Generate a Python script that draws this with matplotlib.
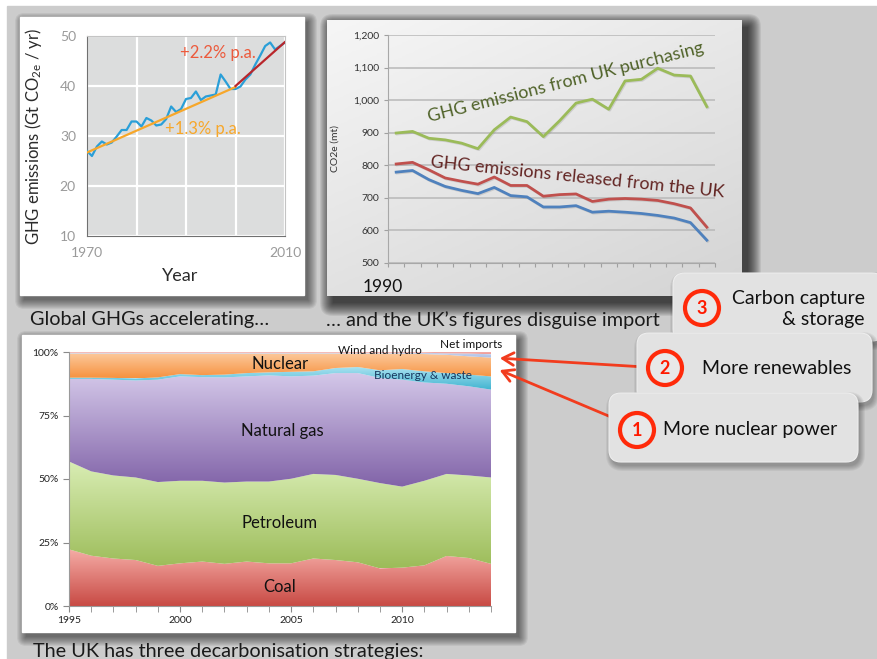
import matplotlib
matplotlib.use("Agg")
import matplotlib.pyplot as plt
import matplotlib.patheffects as pe
import numpy as np
from matplotlib.patches import Rectangle, FancyBboxPatch, Circle
from matplotlib.colors import LinearSegmentedColormap

plt.rcParams["font.family"] = ["Lato", "DejaVu Sans"]
plt.rcParams["mathtext.default"] = "regular"

W, H = 877, 659

# --- panel 1: global GHG emissions (Gt CO2e / yr)
ghg_years = list(range(1970, 2011))
ghg_values = [27.0, 26.0, 27.9, 28.9, 28.3, 28.7, 29.9, 31.2, 31.2, 32.9,
              32.9, 31.9, 33.6, 33.1, 32.1, 32.3, 33.4, 35.9, 34.8, 35.4,
              37.4, 37.6, 38.9, 37.2, 37.9, 38.1, 38.3, 42.3, 40.9, 39.4,
              39.4, 39.9, 41.3, 42.3, 44.3, 46.1, 48.0, 48.7, 47.3, 48.0, 48.7]
trend_early_years = [1970, 2000]
trend_early = [26.7, 39.8]
trend_late_years = [2000, 2010]
trend_late = [40.0, 48.8]

# --- panel 2: UK emissions (CO2e mt), 1990-2009
uk_years = list(range(1990, 2010))
uk_purchasing = [899, 904, 883, 878, 868, 851, 909, 948, 934, 888,
                 937, 991, 1003, 972, 1059, 1064, 1098, 1077, 1074, 980]
uk_released = [804, 809, 786, 761, 751, 742, 764, 738, 738, 705,
               710, 712, 689, 696, 698, 696, 692, 682, 669, 610]
uk_territorial = [779, 784, 756, 735, 723, 713, 732, 707, 703, 672,
                  672, 676, 656, 659, 656, 652, 646, 638, 624, 570]

# --- panel 3: UK primary energy mix (%), 1995-2014
mix_years = list(range(1995, 2015))
coal = [22.3, 19.8, 18.7, 18.1, 15.8, 16.8, 17.5, 16.6, 17.5, 16.8,
        16.8, 18.7, 18.1, 17.2, 14.8, 15.1, 16.0, 19.7, 18.9, 16.6]
petroleum = [34.6, 33.2, 32.7, 32.5, 33.0, 32.5, 31.8, 32.0, 31.5, 32.2,
             33.3, 33.3, 33.5, 32.9, 33.6, 31.9, 33.3, 32.3, 32.5, 34.0]
natural_gas = [32.5, 36.4, 37.7, 38.2, 40.3, 41.1, 40.8, 41.4, 41.4, 41.8,
               40.3, 38.7, 40.1, 41.6, 41.4, 42.1, 38.7, 35.5, 35.1, 34.6]
bioenergy = [0.5, 0.5, 0.7, 0.8, 0.9, 0.9, 0.8, 1.1, 1.3, 1.2,
             1.8, 1.7, 2.0, 2.4, 3.0, 4.2, 4.4, 4.2, 4.6, 5.2]
nuclear = [9.5, 9.5, 9.6, 9.8, 9.4, 8.1, 8.5, 8.3, 7.7, 7.4,
           7.2, 7.0, 5.7, 5.3, 6.6, 6.0, 6.8, 7.2, 7.2, 7.4]
wind_hydro = [0.3, 0.3, 0.3, 0.3, 0.3, 0.3, 0.3, 0.3, 0.3, 0.3,
              0.3, 0.3, 0.3, 0.3, 0.3, 0.4, 0.5, 0.6, 1.1, 1.3]
net_imports = [0.3, 0.3, 0.3, 0.3, 0.3, 0.3, 0.3, 0.3, 0.3, 0.3,
               0.3, 0.3, 0.3, 0.3, 0.3, 0.3, 0.3, 0.5, 0.6, 0.9]

fig = plt.figure(figsize=(W / 100, H / 100), dpi=100)
bg = fig.add_axes([0, 0, 1, 1])
bg.axis("off")
bg.add_patch(Rectangle((0, 0), W, H, color="white", zorder=0))
bg.add_patch(Rectangle((7, 6), W, H, color="#cccccc", zorder=0))


def px_axes(x0, y0, x1, y1):
    return fig.add_axes([x0 / W, 1 - y1 / H, (x1 - x0) / W, (y1 - y0) / H])


def shadow(x0, y0, x1, y1, dx=4, dy=5, n=10, alpha=0.06, r=0):
    for k in range(n):
        bg.add_patch(FancyBboxPatch((x0 + dx - k, y0 + dy - k), x1 - x0 + 2 * k, y1 - y0 + 2 * k,
                                    boxstyle=f"round,pad=0,rounding_size={r + k}",
                                    fc="black", ec="none", alpha=alpha, zorder=1))


# cards
shadow(20, 17, 304, 295, dx=4, dy=5, n=10, alpha=0.06)
bg.add_patch(Rectangle((20, 17), 284, 278, color="white", zorder=2))
shadow(327, 20, 742, 296, dx=6, dy=7, n=14, alpha=0.07)
yy, xx = np.mgrid[0:1:100j, 0:1:100j]
card = 0.6 * yy + 0.4 * xx
card_cmap = LinearSegmentedColormap.from_list("card", ["#f6f6f6", "#d4d4d4"])
bg.imshow(card, cmap=card_cmap, extent=(327, 742, 296, 20), aspect="auto", zorder=2)
shadow(22, 335, 515, 632, dx=4, dy=5, n=10, alpha=0.06)
bg.add_patch(Rectangle((22, 335), 493, 297, color="white", zorder=2))

# ---------------- panel 1
ax1 = px_axes(87, 36, 285, 236)
ax1.set_facecolor("#dcdddd")
ax1.plot(ghg_years, ghg_values, color="#2a9fd8", lw=1.6, zorder=3)
ax1.plot(trend_early_years, trend_early, color="#f7a72a", lw=1.6, zorder=4)
ax1.plot(trend_late_years, trend_late, color="#b9262b", lw=1.6, zorder=4)
ax1.set_xlim(1970, 2010)
ax1.set_ylim(10, 50)
ax1.set_xticks([1970, 1980, 1990, 2000, 2010])
ax1.set_xticklabels(["1970", "", "", "", "2010"])
ax1.set_yticks([10, 20, 30, 40, 50])
ax1.grid(color="white", lw=1.6)
ax1.set_axisbelow(True)
ax1.tick_params(length=0, colors="#9a9a9a", labelsize=10, pad=8)
for s in ["left", "bottom"]:
    ax1.spines[s].set_color("#707070")
for s in ["top", "right"]:
    ax1.spines[s].set_color("#c4c4c4")
ax1.set_ylabel("GHG emissions (Gt CO$_{2e}$ / yr)", fontsize=12, color="#2b2b2b")
ax1.yaxis.set_label_coords(-0.215, 0.5)
ax1.text(1996.4, 46.6, "+2.2% p.a.", color="#ec5a3c", fontsize=12, ha="center", va="center")
ax1.text(1993.4, 31.4, "+1.3% p.a.", color="#f7a72a", fontsize=12, ha="center", va="center")
bg.text(180, 276, "Year", fontsize=13, color="#2b2b2b", ha="center", va="center", zorder=3)

# ---------------- panel 2
ax2 = px_axes(388, 35, 715, 263)
ax2.set_facecolor("none")
xs = np.arange(len(uk_years)) + 0.5
shade = [pe.SimpleLineShadow(offset=(0.7, -0.7), shadow_color="#808080", alpha=0.25), pe.Normal()]
ax2.plot(xs, uk_purchasing, color="#9bbb59", lw=2.0, path_effects=shade)
ax2.plot(xs, uk_released, color="#c0504d", lw=2.0, path_effects=shade)
ax2.plot(xs, uk_territorial, color="#4f81bd", lw=2.0, path_effects=shade)
ax2.set_xlim(0, len(uk_years))
ax2.set_ylim(500, 1200)
ax2.set_yticks(range(500, 1201, 100))
ax2.set_yticklabels([f"{v:,}" for v in range(500, 1201, 100)])
ax2.set_xticks(range(0, len(uk_years) + 1))
ax2.set_xticklabels([])
ax2.yaxis.grid(True, color="#b8b8b8", lw=1.1)
ax2.set_axisbelow(True)
ax2.tick_params(axis="y", length=3, colors="#a0a0a0", labelcolor="#333333", labelsize=7.5, pad=3)
ax2.tick_params(axis="x", length=3, colors="#a0a0a0")
for s in ["top", "right"]:
    ax2.spines[s].set_visible(False)
for s in ["left", "bottom"]:
    ax2.spines[s].set_color("#a8a8a8")
ax2.set_ylabel("CO2e (mt)", fontsize=7.5, color="#333333")
ax2.yaxis.set_label_coords(-0.147, 0.5)
ax2.text(2.55, 933, "GHG emissions from UK purchasing", color="#4f6228", fontsize=13,
         rotation=14.2, rotation_mode="anchor", ha="left", va="baseline")
ax2.text(2.55, 795, "GHG emissions released from the UK", color="#632523", fontsize=13,
         rotation=-5.9, rotation_mode="anchor", ha="left", va="baseline")
bg.text(363, 287, "1990", fontsize=12.5, color="#111111", ha="left", va="center", zorder=3)

# ---------------- panel 3
ax3 = px_axes(69, 352, 491, 606)
layers = [coal, petroleum, natural_gas, bioenergy, nuclear, wind_hydro, net_imports]
grads = [("#f5aca6", "#c84a44"), ("#d9edb4", "#9cbc59"), ("#d4c8e9", "#8163a8"),
         ("#a8e2f0", "#40b3d0"), ("#fcc99c", "#f6923f"), ("#c4d2ee", "#a9bde6"),
         ("#f4b4b0", "#ee9c98")]
bottom = np.zeros(len(mix_years))
grad = np.linspace(0, 1, 256).reshape(-1, 1)
for i, (vals, (ctop, cbot)) in enumerate(zip(layers, grads)):
    top = bottom + np.array(vals)
    poly = ax3.fill_between(mix_years, bottom, top, facecolor="none", edgecolor="none")
    cmap = LinearSegmentedColormap.from_list(f"g{i}", [cbot, ctop])
    im = ax3.imshow(grad, cmap=cmap, aspect="auto", origin="lower",
                    extent=(mix_years[0], mix_years[-1], bottom.min(), top.max()), zorder=2)
    im.set_clip_path(poly.get_paths()[0], transform=ax3.transData)
    bottom = top
ax3.set_xlim(1995, 2014)
ax3.set_ylim(0, 100)
ax3.set_yticks([0, 25, 50, 75, 100])
ax3.set_yticklabels(["0%", "25%", "50%", "75%", "100%"])
ax3.set_xticks([1995, 2000, 2005, 2010])
ax3.set_xticks(mix_years, minor=True)
ax3.tick_params(which="both", length=4, colors="#8a8a8a", labelcolor="#222222", labelsize=7.5)
for s in ["top", "right"]:
    ax3.spines[s].set_visible(False)
for s in ["left", "bottom"]:
    ax3.spines[s].set_color("#9a9a9a")
lab = dict(ha="center", va="center", color="#111111", zorder=5)
ax3.text(2004.5, 95.3, "Nuclear", fontsize=12, **lab)
ax3.text(2004.6, 68.9, "Natural gas", fontsize=12, **lab)
ax3.text(2004.5, 32.7, "Petroleum", fontsize=12, **lab)
ax3.text(2004.5, 7.5, "Coal", fontsize=12, **lab)
ax3.text(2009.0, 100.4, "Wind and hydro", fontsize=8.5, clip_on=False, **lab)
ax3.text(2010.95, 90.6, "Bioenergy & waste", fontsize=8.5, ha="center", va="center",
         color="#17375e", zorder=5)
ax3.text(2013.1, 102.8, "Net imports", fontsize=8.5, clip_on=False, **lab)

# ---------------- slide text
txt = dict(fontsize=14.3, color="#1a1a1a", va="center", ha="left", zorder=3)
bg.text(30, 320, "Global GHGs accelerating…", **txt)
bg.text(326, 320, "… and the UK’s figures disguise import", **txt)
bg.text(33, 651, "The UK has three decarbonisation strategies:", **txt)

# arrows
arrow = dict(arrowstyle="->,head_length=0.8,head_width=0.45", color="#f23c1e", lw=2)
bg.annotate("", xy=(497, 358), xytext=(645, 367), arrowprops=arrow, zorder=3)
bg.annotate("", xy=(497, 369), xytext=(630, 425), arrowprops=arrow, zorder=3)

# callouts (3 behind 2 behind 1)
callouts = [
    ((673, 273, 884, 341), (702, 308), "3", "Carbon capture\n& storage", (865, 309), "right"),
    ((637, 333, 872, 402), (665, 368), "2", "More renewables", (702, 368), "left"),
    ((609, 393, 858, 462), (637, 430), "1", "More nuclear power", (663, 430), "left"),
]
for k, ((x0, y0, x1, y1), (cx, cy), num, label, (tx, ty), ha) in enumerate(callouts):
    z = 4 + 2 * k
    for j in range(6):
        bg.add_patch(FancyBboxPatch((x0 + 2 - j, y0 + 4 - j), x1 - x0 + 2 * j, y1 - y0 + 2 * j,
                                    boxstyle=f"round,pad=0,rounding_size={12 + j}",
                                    fc="black", ec="none", alpha=0.05, zorder=z))
    bg.add_patch(FancyBboxPatch((x0, y0), x1 - x0, y1 - y0,
                                boxstyle="round,pad=0,rounding_size=12",
                                fc="#e2e2e2", ec="#eeeeee", lw=0.8, zorder=z + 0.5))
    bg.add_patch(Circle((cx, cy), 17, fc="#e8e8e8", ec="#ff2a0a", lw=3, zorder=z + 0.6))
    bg.text(cx, cy + 1, num, color="#ff1a00", fontsize=13, fontweight="bold",
            ha="center", va="center", zorder=z + 0.7)
    bg.text(tx, ty, label, fontsize=14, color="#111111", ha=ha, va="center",
            multialignment="right", linespacing=1.25, zorder=z + 0.7)

bg.set_xlim(0, W)
bg.set_ylim(H, 0)
fig.savefig("out.png", dpi=100)
